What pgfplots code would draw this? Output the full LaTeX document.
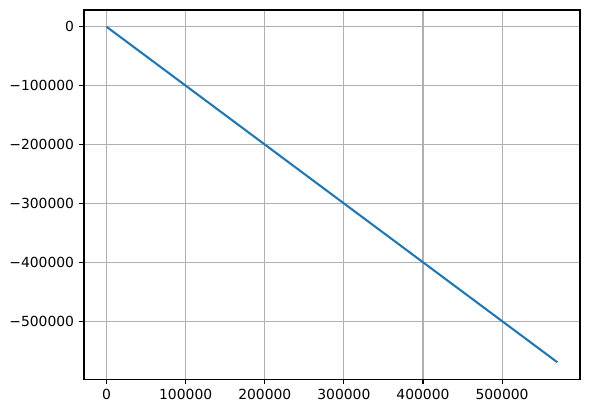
\documentclass[border=0pt]{standalone}
\usepackage{fontspec}
\setmainfont{DejaVu Sans}
\usepackage{pgfplots}
\pgfplotsset{compat=1.18}
\usetikzlibrary{calc}
\definecolor{mplblue}{HTML}{1F77B4}
\definecolor{mplgrid}{HTML}{B0B0B0}
\begin{document}
\begin{tikzpicture}
\begin{axis}[
  scale only axis,
  width=357pt, height=265.7pt,
  xmin=-28500, xmax=598500,
  ymin=-598500, ymax=28500,
  scaled ticks=false,
  xtick={0,100000,200000,300000,400000,500000},
  xticklabels={0,100000,200000,300000,400000,500000},
  ytick={-500000,-400000,-300000,-200000,-100000,0},
  yticklabels={−500000,−400000,−300000,−200000,−100000,0},
  tick align=outside,
  major tick length=3.5pt,
  tick style={black, line width=0.8pt},
  axis line style={line width=0.8pt},
  xtick pos=bottom, ytick pos=left,
  grid=major,
  major grid style={mplgrid, line width=0.8pt},
  ticklabel style={font=\fontsize{10pt}{12pt}\selectfont, inner sep=0pt},
  xticklabel style={yshift=-3.5pt},
  yticklabel style={xshift=-3.5pt},
]
\addplot[mplblue, line width=1.5pt] coordinates {(0,0) (570000,-570000)};
\end{axis}
\pgfresetboundingbox
\path[use as bounding box] ($(current axis.south west)+(-60.5pt,-24.5pt)$) rectangle ($(current axis.north east)+(6.5pt,7.2pt)$);
\end{tikzpicture}
\end{document}
